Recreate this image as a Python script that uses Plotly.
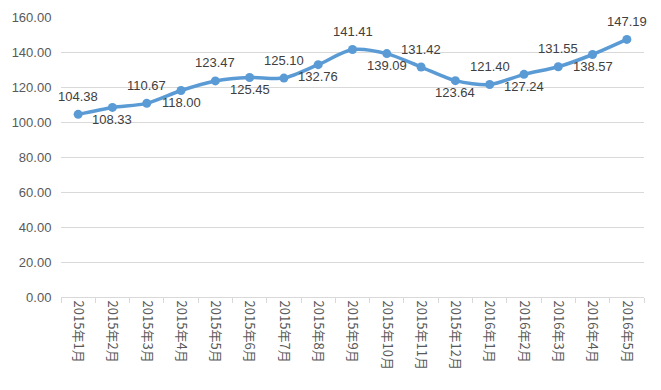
import plotly.graph_objects as go

months = ["2015年1月", "2015年2月", "2015年3月", "2015年4月", "2015年5月", "2015年6月",
          "2015年7月", "2015年8月", "2015年9月", "2015年10月", "2015年11月", "2015年12月",
          "2016年1月", "2016年2月", "2016年3月", "2016年4月", "2016年5月"]
values = [104.38, 108.33, 110.67, 118.00, 123.47, 125.45, 125.10, 132.76, 141.41,
          139.09, 131.42, 123.64, 121.40, 127.24, 131.55, 138.57, 147.19]
label_above = [True, False] * 8 + [True]

fig = go.Figure()
fig.add_trace(go.Scatter(
    x=months, y=values,
    mode="lines+markers",
    line=dict(color="#5B9BD5", width=3.5, shape="spline", smoothing=0.8),
    marker=dict(color="#5B9BD5", size=9),
    cliponaxis=False,
    showlegend=False,
))

for m, v, up in zip(months, values, label_above):
    fig.add_annotation(
        x=m, y=v, text=f"{v:.2f}", showarrow=False,
        xanchor="center", yanchor="middle",
        yshift=18 if up else -12,
        font=dict(family="Liberation Sans, Arial, sans-serif", size=13, color="#404040"),
    )

# the page body adds an 8px margin, so the figure is sized to fit the window
fig.update_layout(
    width=653, height=382,
    margin=dict(l=53, r=17, t=9, b=93, autoexpand=False),
    paper_bgcolor="white", plot_bgcolor="white",
    font=dict(family="Liberation Sans, Arial, sans-serif", color="#595959", size=13),
)
fig.update_xaxes(
    type="category", tickangle=90, automargin=False,
    range=[-0.5, len(months) - 0.5],
    ticks="outside", tickson="boundaries", ticklen=5, tickcolor="#D9D9D9",
    showline=True, linecolor="#D9D9D9", linewidth=1,
    showgrid=False,
    tickfont=dict(family="Noto Sans CJK SC, sans-serif", size=13, color="#595959"),
)
fig.update_yaxes(
    range=[0, 160], dtick=20, tickformat=".2f", automargin=False,
    showgrid=True, gridcolor="#D9D9D9", gridwidth=1,
    zeroline=False, showline=False, ticks="outside", ticklen=6, tickcolor="rgba(0,0,0,0)",
    tickfont=dict(size=13, color="#595959"),
)

fig.write_html("out.html")
